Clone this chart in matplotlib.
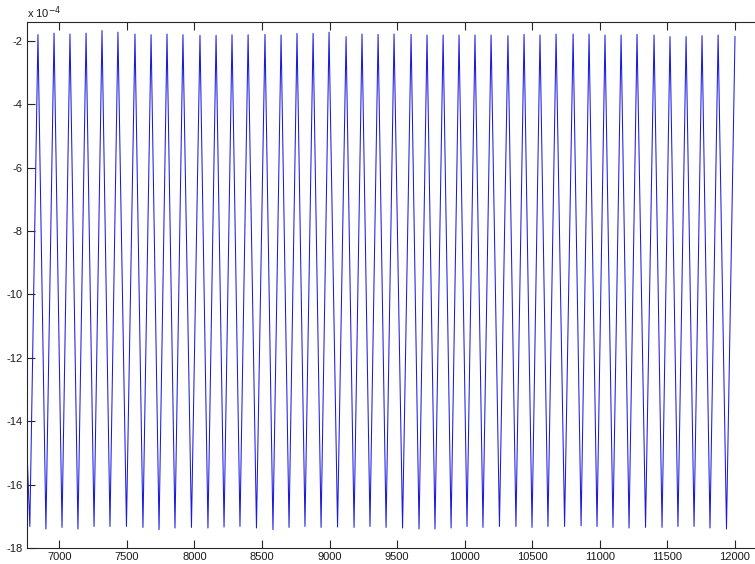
import numpy as np
import matplotlib
matplotlib.use("Agg")
import matplotlib.pyplot as plt
from matplotlib.ticker import FuncFormatter

# ---- data (values in units of 1e-4) ----
start_x = 6765
start_y = -15.4

trough_x = [6782, 6901, 7020, 7138, 7257, 7375, 7497, 7619, 7738, 7856, 7978,
            8100, 8219, 8337, 8459, 8581, 8700, 8818, 8937, 9059, 9181, 9299,
            9418, 9540, 9662, 9780, 9899, 10017, 10135, 10257, 10379, 10498,
            10616, 10739, 10861, 10979, 11097, 11216, 11338, 11460, 11578,
            11697, 11815, 11937]
trough_y = [-17.32, -17.40, -17.35, -17.40, -17.32, -17.32, -17.32, -17.35,
            -17.42, -17.37, -17.35, -17.37, -17.34, -17.32, -17.37,
            -17.42, -17.35, -17.32, -17.35, -17.34, -17.35, -17.32, -17.35,
            -17.37, -17.40, -17.40, -17.37, -17.32, -17.35, -17.32,
            -17.32, -17.35, -17.32, -17.32, -17.30, -17.32, -17.35, -17.37,
            -17.35, -17.35, -17.32, -17.32, -17.37, -17.40]

peak_x = [6842, 6961, 7079, 7198, 7316, 7434, 7560, 7679, 7797, 7915, 8041,
          8160, 8278, 8397, 8522, 8641, 8759, 8878, 8996, 9122, 9240, 9359,
          9477, 9603, 9721, 9840, 9958, 10076, 10195, 10320, 10439, 10557,
          10676, 10802, 10920, 11038, 11157, 11275, 11401, 11519, 11638,
          11756, 11875, 12000]
peak_y = [-1.81, -1.76, -1.79, -1.76, -1.68, -1.73, -1.79, -1.81, -1.79, -1.81,
          -1.83, -1.83, -1.81, -1.81,
          -1.80, -1.82, -1.77, -1.77, -1.73, -1.87, -1.79, -1.80, -1.79, -1.80,
          -1.82, -1.82, -1.82, -1.82, -1.82,
          -1.84, -1.80, -1.82, -1.79, -1.79, -1.79, -1.82, -1.82, -1.80, -1.82,
          -1.87, -1.87, -1.84, -1.82, -1.87]

scale = 1e-4
x_ticks = [7000, 7500, 8000, 8500, 9000, 9500, 10000, 10500, 11000, 11500, 12000]
y_ticks = [-18, -16, -14, -12, -10, -8, -6, -4, -2]

# interleave trough / peak
xs = [start_x]
ys = [start_y]
for tx, ty, px, py in zip(trough_x, trough_y, peak_x, peak_y):
    xs += [tx, px]
    ys += [ty, py]
xs = np.array(xs, dtype=float)
ys = np.array(ys, dtype=float) * scale

plt.rcParams['font.family'] = ['Liberation Sans', 'DejaVu Sans']

W, H = 755, 564
fig = plt.figure(figsize=(W / 100, H / 100), dpi=100)
fig.patch.set_facecolor('white')
left, right, top, bottom = 27, 755, 21.7, 548
ax = fig.add_axes([left / W, 1 - bottom / H, (right - left) / W, (bottom - top) / H])

ax.plot(xs, ys, color='#1a1ae0', lw=0.75)

ax.set_xlim(6761, 12148)
ax.set_ylim(-18 * scale, -1.4 * scale)
ax.set_xticks(x_ticks)
ax.set_yticks([v * scale for v in y_ticks])
ax.yaxis.set_major_formatter(FuncFormatter(lambda v, p: f"{v / scale:.0f}"))
ax.xaxis.set_major_formatter(FuncFormatter(lambda v, p: f"{v:.0f}"))

for s in ['left', 'top', 'bottom']:
    ax.spines[s].set_color('#262626')
    ax.spines[s].set_linewidth(0.8)
ax.spines['right'].set_visible(False)

ax.tick_params(direction='in', length=6, width=0.8, color='#262626',
               labelsize=8, labelcolor='#1a1a1a', top=True, right=False, pad=3)

fig.text(left / W, 1 - 13 / H, r'x 10$^{-4}$', fontsize=8, color='#1a1a1a',
         ha='left', va='center')

fig.savefig('out.png', dpi=100, facecolor='white')
